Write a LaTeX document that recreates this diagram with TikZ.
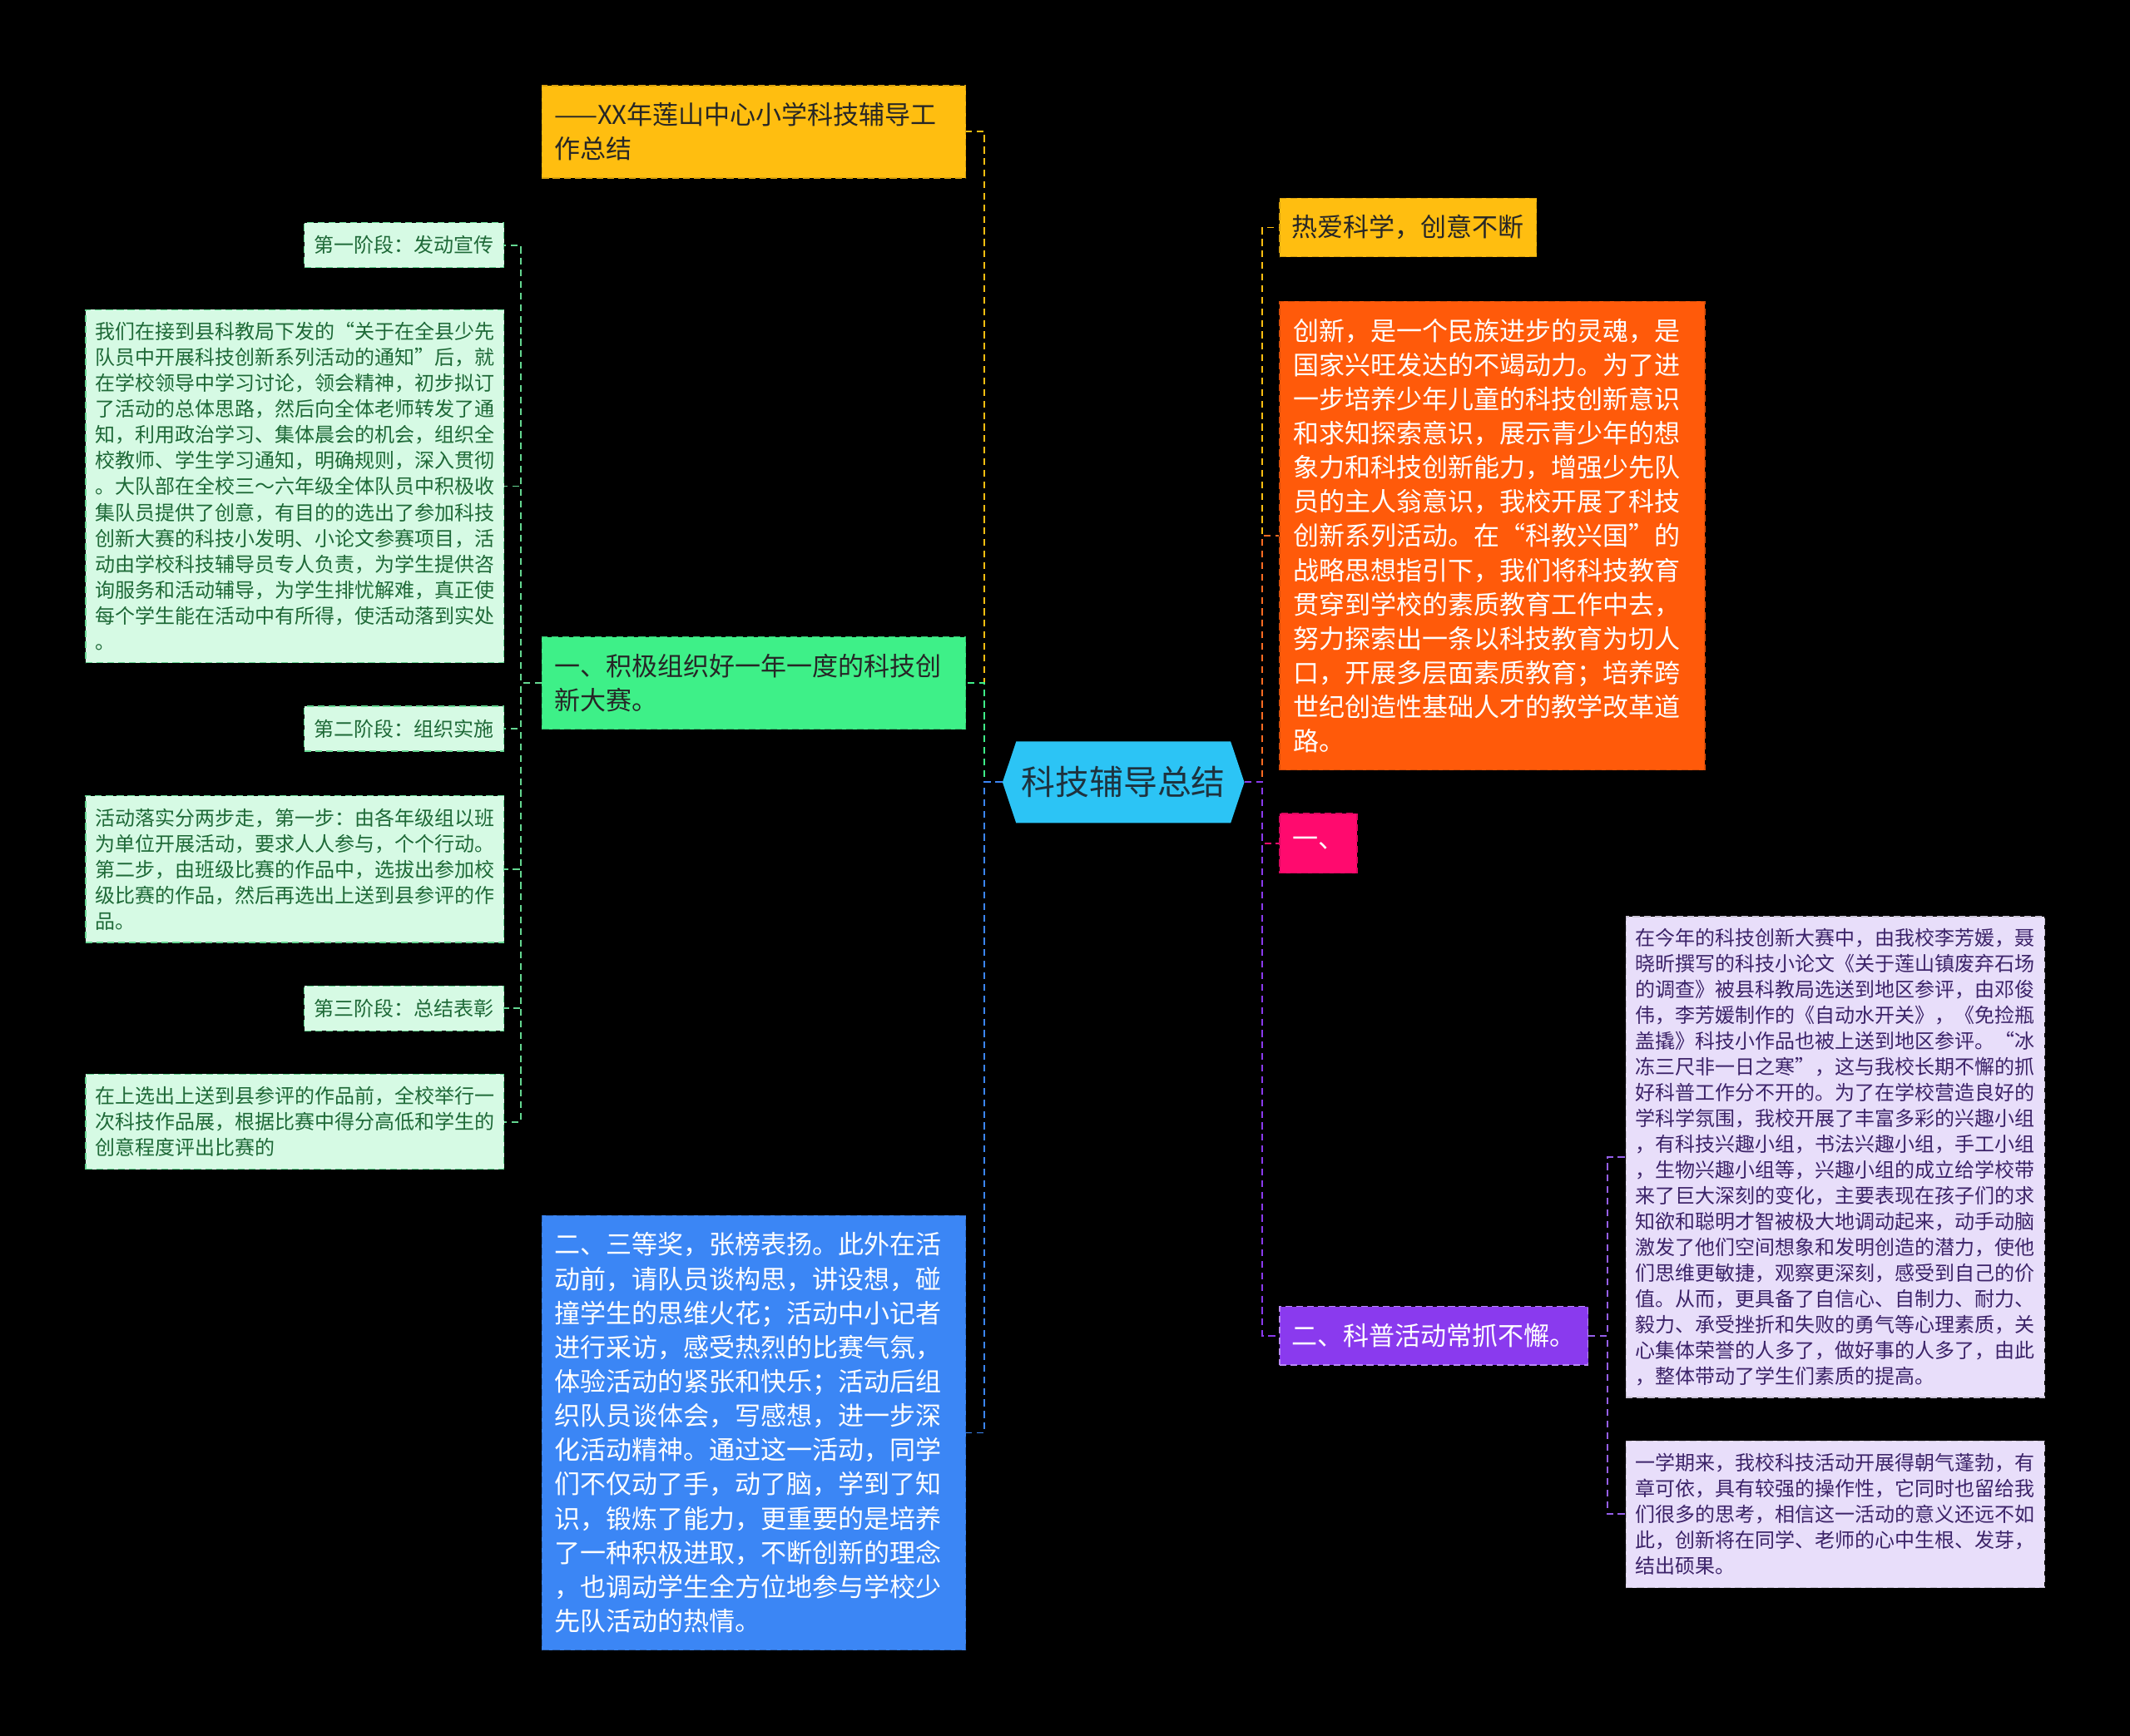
\documentclass[tikz,border=0pt]{standalone}
\usepackage{fontspec}
\setmainfont{Noto Sans CJK SC}
\usetikzlibrary{shapes.symbols}
\definecolor{rootBlue}{RGB}{44, 196, 245}
\definecolor{rootText}{RGB}{30, 50, 62}
\definecolor{boxGold}{RGB}{255, 190, 16}
\definecolor{boxGreen}{RGB}{62, 240, 136}
\definecolor{boxMint}{RGB}{214, 250, 228}
\definecolor{boxBlue}{RGB}{59, 134, 245}
\definecolor{boxOrange}{RGB}{255, 90, 10}
\definecolor{boxPink}{RGB}{255, 10, 110}
\definecolor{boxPurple}{RGB}{138, 58, 238}
\definecolor{boxLav}{RGB}{232, 222, 250}
\definecolor{mintText}{RGB}{30, 105, 55}
\definecolor{lavText}{RGB}{60, 35, 105}
\definecolor{lineMint}{RGB}{100, 215, 145}
\definecolor{lineLav}{RGB}{150, 95, 235}

\begin{document}
\begin{tikzpicture}[x=1pt, y=-1pt,
    box/.style={draw, dash pattern=on 5pt off 3pt, line width=0.8pt, inner ysep=3pt, align=left},
    big/.style={box, font=\fontsize{19}{25.2}\selectfont, inner xsep=9pt},
    small/.style={box, font=\fontsize{14.7}{19}\selectfont, inner xsep=7pt},
    conn/.style={dash pattern=on 5pt off 3.5pt, line width=1.2pt},
    root/.style={signal, signal to=west and east, signal pointer angle=143, fill=rootBlue,
        text=rootText, minimum width=178pt, minimum height=60pt, inner sep=0pt,
        font=\fontsize{25}{30}\selectfont}]
        \fill[black] (0,0) rectangle (1568,1278);

        % centre
        \node[root] (root) at (827,576) {科技辅导总结};

        % left branch
        \node[big, fill=boxGold, draw=boxGold!85!black, text=black!85, text width=294pt, minimum height=68pt] (title) at (555,97)
            {——XX年莲山中心小学科技辅导工\\作总结};
        \node[big, fill=boxGreen, draw=boxGreen!80!black, text=black!85, text width=294pt, minimum height=68pt] (contest) at (555,503)
            {一、积极组织好一年一度的科技创\\新大赛。};
        \node[big, fill=boxBlue, draw=boxBlue!80!black, text=white, text width=294pt, minimum height=320pt] (award) at (555,1055)
            {二、三等奖，张榜表扬。此外在活\\动前，请队员谈构思，讲设想，碰\\撞学生的思维火花；活动中小记者\\进行采访，感受热烈的比赛气氛，\\体验活动的紧张和快乐；活动后组\\织队员谈体会，写感想，进一步深\\化活动精神。通过这一活动，同学\\们不仅动了手，动了脑，学到了知\\识，锻炼了能力，更重要的是培养\\了一种积极进取，不断创新的理念\\，也调动学生全方位地参与学校少\\先队活动的热情。};

        % stages of the contest
        \tikzset{mint/.style={small, fill=boxMint, draw=lineMint, text=mintText}}
        \node[mint, minimum width=147pt, minimum height=33pt] (stageA) at (297.5,180.5) {第一阶段：发动宣传};
        \node[mint, text width=294pt, minimum height=260pt] (stageAtxt) at (217,358)
            {我们在接到县科教局下发的“关于在全县少先\\队员中开展科技创新系列活动的通知”后，就\\在学校领导中学习讨论，领会精神，初步拟订\\了活动的总体思路，然后向全体老师转发了通\\知，利用政治学习、集体晨会的机会，组织全\\校教师、学生学习通知，明确规则，深入贯彻\\。大队部在全校三～六年级全体队员中积极收\\集队员提供了创意，有目的的选出了参加科技\\创新大赛的科技小发明、小论文参赛项目，活\\动由学校科技辅导员专人负责，为学生提供咨\\询服务和活动辅导，为学生排忧解难，真正使\\每个学生能在活动中有所得，使活动落到实处\\。};
        \node[mint, minimum width=147pt, minimum height=33pt] (stageB) at (297.5,536.5) {第二阶段：组织实施};
        \node[mint, text width=294pt, minimum height=108pt] (stageBtxt) at (217,640)
            {活动落实分两步走，第一步：由各年级组以班\\为单位开展活动，要求人人参与，个个行动。\\第二步，由班级比赛的作品中，选拔出参加校\\级比赛的作品，然后再选出上送到县参评的作\\品。};
        \node[mint, minimum width=147pt, minimum height=33pt] (stageC) at (297.5,742.5) {第三阶段：总结表彰};
        \node[mint, text width=294pt, minimum height=70pt] (stageCtxt) at (217,826)
            {在上选出上送到县参评的作品前，全校举行一\\次科技作品展，根据比赛中得分高低和学生的\\创意程度评出比赛的};

        % right branch
        \node[big, fill=boxGold, draw=boxGold!85!black, text=black!85, minimum width=189pt, minimum height=43pt] (love) at (1036.5,167.5)
            {热爱科学，创意不断};
        \node[big, fill=boxOrange, draw=boxOrange!85!black, text=white, inner xsep=10pt, text width=293pt, minimum height=345pt] (soul) at (1098.5,394.5)
            {创新，是一个民族进步的灵魂，是\\国家兴旺发达的不竭动力。为了进\\一步培养少年儿童的科技创新意识\\和求知探索意识，展示青少年的想\\象力和科技创新能力，增强少先队\\员的主人翁意识，我校开展了科技\\创新系列活动。在“科教兴国”的\\战略思想指引下，我们将科技教育\\贯穿到学校的素质教育工作中去，\\努力探索出一条以科技教育为切人\\口，开展多层面素质教育；培养跨\\世纪创造性基础人才的教学改革道\\路。};
        \node[big, fill=boxPink, draw=boxPink!85!black, text=white, minimum width=57pt, minimum height=44pt] (one) at (970.5,621) {一、};
        \node[big, fill=boxPurple, draw=boxPurple!60!white, text=white, minimum width=227pt, minimum height=43pt] (popsci) at (1055.5,983.5)
            {二、科普活动常抓不懈。};

        % popular science details
        \tikzset{lav/.style={small, fill=boxLav, draw=boxLav!70!gray, text=lavText}}
        \node[lav, text width=294pt, minimum height=354pt] (groups) at (1351,852)
            {在今年的科技创新大赛中，由我校李芳媛，聂\\晓昕撰写的科技小论文《关于莲山镇废弃石场\\的调查》被县科教局选送到地区参评，由邓俊\\伟，李芳媛制作的《自动水开关》，《免捡瓶\\盖撬》科技小作品也被上送到地区参评。“冰\\冻三尺非一日之寒”，这与我校长期不懈的抓\\好科普工作分不开的。为了在学校营造良好的\\学科学氛围，我校开展了丰富多彩的兴趣小组\\，有科技兴趣小组，书法兴趣小组，手工小组\\，生物兴趣小组等，兴趣小组的成立给学校带\\来了巨大深刻的变化，主要表现在孩子们的求\\知欲和聪明才智被极大地调动起来，动手动脑\\激发了他们空间想象和发明创造的潜力，使他\\们思维更敏捷，观察更深刻，感受到自己的价\\值。从而，更具备了自信心、自制力、耐力、\\毅力、承受挫折和失败的勇气等心理素质，关\\心集体荣誉的人多了，做好事的人多了，由此\\，整体带动了学生们素质的提高。};
        \node[lav, text width=294pt, minimum height=108pt] (term) at (1351,1115)
            {一学期来，我校科技活动开展得朝气蓬勃，有\\章可依，具有较强的操作性，它同时也留给我\\们很多的思考，相信这一活动的意义还远不如\\此，创新将在同学、老师的心中生根、发芽，\\结出硕果。};

        % connectors
        \draw[conn, boxGold] (root.west) -- ++(-13,0) |- (title.east);
        \draw[conn, boxGreen] (root.west) -- ++(-13,0) |- (contest.east);
        \draw[conn, boxBlue] (root.west) -- ++(-13,0) |- (award.east);
        \foreach \n in {stageA, stageAtxt, stageB, stageBtxt, stageC, stageCtxt}
            \draw[conn, lineMint] (contest.west) -- ++(-15,0) |- (\n.east);
        \draw[conn, boxGold] (root.east) -- ++(13,0) |- (love.west);
        \draw[conn, boxOrange!90!white] (root.east) -- ++(13,0) |- (soul.west);
        \draw[conn, boxPink] (root.east) -- ++(13,0) |- (one.west);
        \draw[conn, boxPurple] (root.east) -- ++(13,0) |- (popsci.west);
        \draw[conn, lineLav] (popsci.east) -- ++(14,0) |- (groups.west);
        \draw[conn, lineLav] (popsci.east) -- ++(14,0) |- (term.west);
      \end{tikzpicture}
\end{document}
